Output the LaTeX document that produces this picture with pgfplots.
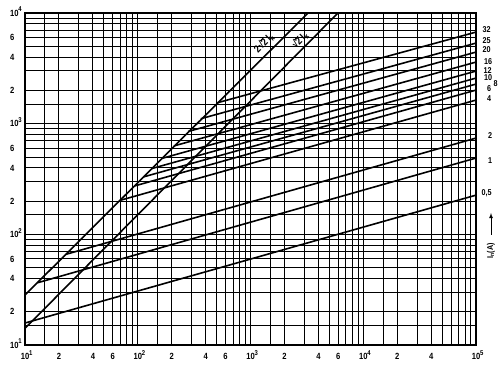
\documentclass[border=0pt]{standalone}
\usepackage{fontspec}
\setmainfont{Liberation Sans}[FakeStretch=0.85]
\usepackage{pgfplots}
\pgfplotsset{compat=1.18}
\newcommand{\tp}[1]{10\rlap{\raisebox{4.5bp}{\fontsize{7}{7}\selectfont #1}}}
\newcommand{\rt}{\rlap{\raisebox{0.68em}{\rule{0.55em}{0.06em}}}2}
\begin{document}
\begin{tikzpicture}[font=\fontsize{8.5}{10}\selectfont\bfseries]
\useasboundingbox (0,0) rectangle (503bp,366bp);
\begin{axis}[
 at={(25bp,21bp)}, anchor=south west,
 scale only axis, width=451bp, height=332bp,
 xmode=log, ymode=log,
 xmin=10, xmax=100000, ymin=10, ymax=10000,
 xtick={10,15,20,30,40,50,60,70,80,90,100,150,200,300,400,500,600,700,800,900,1000,1500,2000,3000,4000,5000,6000,7000,8000,9000,10000,15000,20000,30000,40000,50000,60000,70000,80000,90000,100000},
 xticklabels={\tp{1},,2,,4,,6,,,,\tp{2},,2,,4,,6,,,,\tp{3},,2,,4,,6,,,,\tp{4},,2,,4,,,,,,\tp{5}},
 ytick={10,15,20,30,40,50,60,70,80,90,100,150,200,300,400,500,600,700,800,900,1000,1500,2000,3000,4000,5000,6000,7000,8000,9000,10000},
 yticklabels={\tp{1},,2,,4,,6,,,,\tp{2},,2,,4,,6,,,,\tp{3},,2,,4,,6,,,,\tp{4}},
 xticklabel style={anchor=base, yshift=-15bp, font=\fontsize{9}{10}\selectfont\bfseries},
 yticklabel style={anchor=base west, xshift=-18.5bp, yshift=-3.3bp, font=\fontsize{9}{10}\selectfont\bfseries},
 grid=major, major grid style={black, line width=0.9bp},
 major tick length=0pt, minor tick length=0pt,
 axis line style={black, line width=1.4bp},
 fl/.style={black, solid, no markers, line width=1.6bp},
]
% steep lines
\addplot[fl] coordinates {(10,28.28) (3236,10000)};
\addplot[fl] coordinates {(10,14.14) (5970,10000)};
% fuse lines
\addplot[fl] coordinates {(10,15.8) (100000,226)};   % 0.5
\addplot[fl] coordinates {(12.9,36.5) (100000,489)}; % 1
\addplot[fl] coordinates {(23.1,66) (100000,741)};   % 2
\addplot[fl] coordinates {(70,203) (100000,1634)};   % 4
\addplot[fl] coordinates {(93,273) (100000,2011)};   % 6
\addplot[fl] coordinates {(112,330) (100000,2279)};  % 8
\addplot[fl] coordinates {(132,392) (100000,2582)};  % 10
\addplot[fl] coordinates {(162,484) (100000,2987)};  % 12
\addplot[fl] coordinates {(209,629) (100000,3602)};  % 16
\addplot[fl] coordinates {(280,850) (100000,4434)};  % 20
\addplot[fl] coordinates {(362,1108) (100000,5346)}; % 25
\addplot[fl] coordinates {(497,1535) (100000,6722)}; % 32
\end{axis}
\node at (486.7bp,336bp) {32};
\node at (486.7bp,325.3bp) {25};
\node at (486.7bp,316.7bp) {20};
\node at (488bp,304.3bp) {16};
\node at (487.5bp,295.8bp) {12};
\node at (488bp,288.7bp) {10};
\node at (495.5bp,282.7bp) {8};
\node at (489bp,277bp) {6};
\node at (489bp,267bp) {4};
\node at (490bp,230bp) {2};
\node at (490bp,205bp) {1};
\node at (486.7bp,173bp) {0,5};
\node[rotate=45, font=\fontsize{10.5}{12}\selectfont\bfseries] at (264bp,323bp) {2√\rt\,I\textsubscript{k}};
\node[rotate=45, font=\fontsize{10.5}{12}\selectfont\bfseries] at (300bp,326bp) {√\rt\,I\textsubscript{k}};
\node[rotate=90] at (491bp,115bp) {I\textsubscript{n}(A)};
\draw[-latex, line width=0.8bp] (491bp,131bp) -- (491bp,153bp);
\end{tikzpicture}
\end{document}
